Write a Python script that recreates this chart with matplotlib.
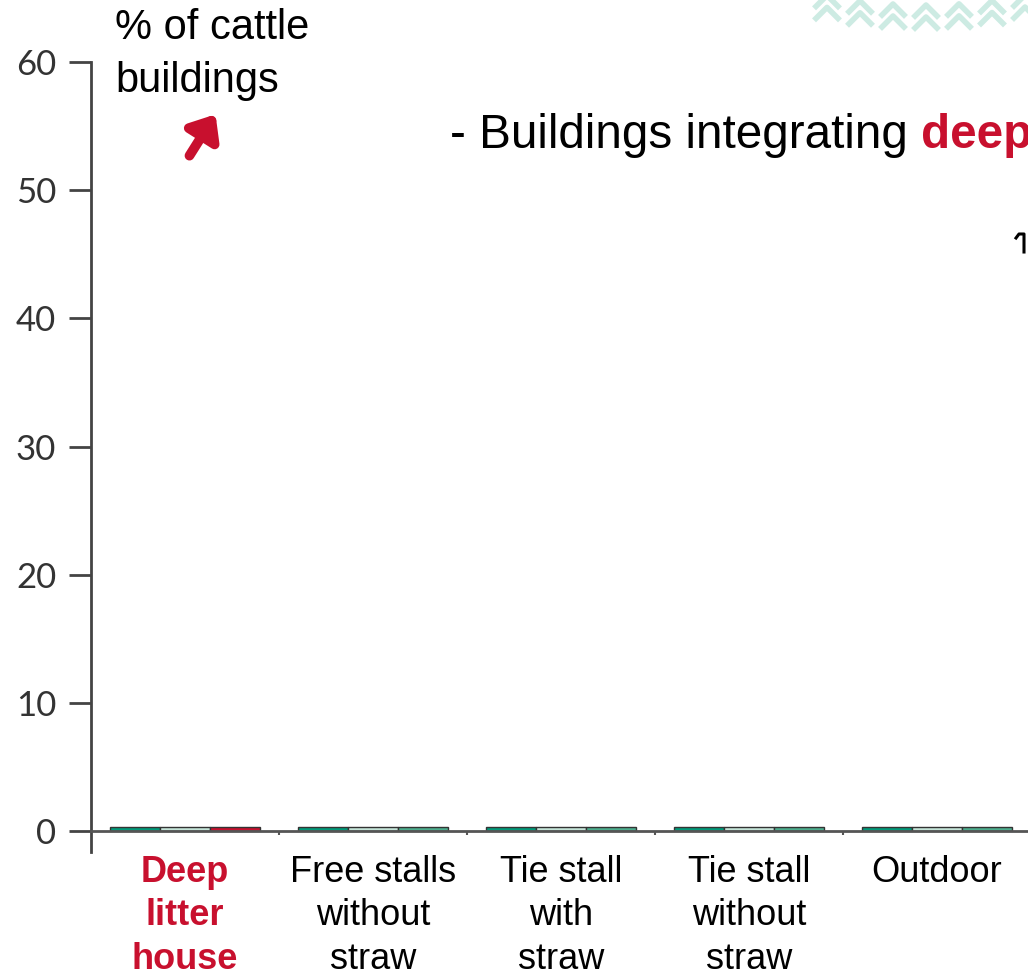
import numpy as np
import matplotlib.pyplot as plt
from matplotlib.lines import Line2D

plt.rcParams["font.family"] = ["Liberation Sans", "DejaVu Sans"]

# data (all bars sit just above zero)
categories = ["Deep\nlitter\nhouse", "Free stalls\nwithout\nstraw", "Tie stall\nwith\nstraw",
              "Tie stall\nwithout\nstraw", "Outdoor"]
series_1 = [0.3, 0.3, 0.3, 0.3, 0.3]
series_2 = [0.3, 0.3, 0.3, 0.3, 0.3]
series_3 = [0.3, 0.3, 0.3, 0.3, 0.3]
y_ticks = [0, 10, 20, 30, 40, 50, 60]

col_dark = "#009B7A"
col_light = "#C4E4D8"
col_mid = "#4DAE8E"
col_red = "#C8102E"

fig = plt.figure(figsize=(10.28, 9.74), dpi=100)
ax = fig.add_axes([91 / 1028, 143 / 974, 937 / 1028, 769 / 974])

x = np.arange(len(categories))
w = 0.266
ax.bar(x - w, series_1, w, color=col_dark, edgecolor="#333333", linewidth=1)
ax.bar(x, series_2, w, color=col_light, edgecolor="#333333", linewidth=1)
colors3 = [col_red] + [col_mid] * (len(categories) - 1)
ax.bar(x + w, series_3, w, color=colors3, edgecolor="#333333", linewidth=1)

ax.set_xlim(-0.5, 4.484)
ax.set_ylim(0, 60)

for s in ["top", "right"]:
    ax.spines[s].set_visible(False)
ax.spines["left"].set_color("#444444")
ax.spines["left"].set_linewidth(2)
ax.spines["left"].set_bounds(-1.65, 60)
ax.spines["bottom"].set_color("#555555")
ax.spines["bottom"].set_linewidth(2)

ax.set_yticks(y_ticks)
ax.set_yticklabels([str(v) for v in y_ticks], family=["Lato", "DejaVu Sans"],
                   fontsize=25, color="#333333")
ax.tick_params(axis="y", length=16, width=2, color="#444444", pad=9)

ax.set_xticks(x)
ax.set_xticklabels(categories, fontsize=26, linespacing=1.32)
ax.tick_params(axis="x", length=0, pad=17)
ax.set_xticks(x[:-1] + 0.5, minor=True)
ax.tick_params(axis="x", which="minor", length=3, width=1.5, color="#555555")
lbl = ax.get_xticklabels()[0]
lbl.set_color(col_red)
lbl.set_fontweight("bold")

# annotations
fig.text(115 / 1028, 1 - 8 / 974, "% of cattle\nbuildings", fontsize=30,
         va="top", ha="left", linespacing=1.42)
ax.annotate("", xy=(217, 974 - 112), xycoords="figure pixels",
            xytext=(188, 974 - 158), textcoords="figure pixels",
            arrowprops=dict(arrowstyle="-|>,head_length=0.6,head_width=0.5",
                            color=col_red, lw=7, mutation_scale=22))

t1 = fig.text(450 / 1028, 1 - 148 / 974, "- Buildings integrating ", fontsize=34.3,
              va="baseline", ha="left")
fig.canvas.draw()
bb = t1.get_window_extent()
fig.text(bb.x1 / 1028, 1 - 148 / 974, "deep", fontsize=34.3, va="baseline",
         ha="left", color=col_red, fontweight="bold")

# cut-off glyph at the right edge
fig.add_artist(Line2D([1016 / 1028, 1019 / 1028, 1024 / 1028, 1024 / 1028],
                      [1 - 238 / 974, 1 - 234 / 974, 1 - 234 / 974, 1 - 252 / 974],
                      color="black", lw=2.2))

# decorative chevrons on top right
for cx in np.arange(827, 1030, 33):
    cy = 20 - ((cx - 925) / 100) ** 2 * 10
    for dy in (0, 12):
        yy = cy - dy
        fig.add_artist(Line2D([(cx - 11) / 1028, cx / 1028, (cx + 11) / 1028],
                              [1 - (yy + 8) / 974, 1 - (yy - 3) / 974, 1 - (yy + 8) / 974],
                              color="#CDEBE3", lw=4))

fig.savefig("out.png", dpi=100)
